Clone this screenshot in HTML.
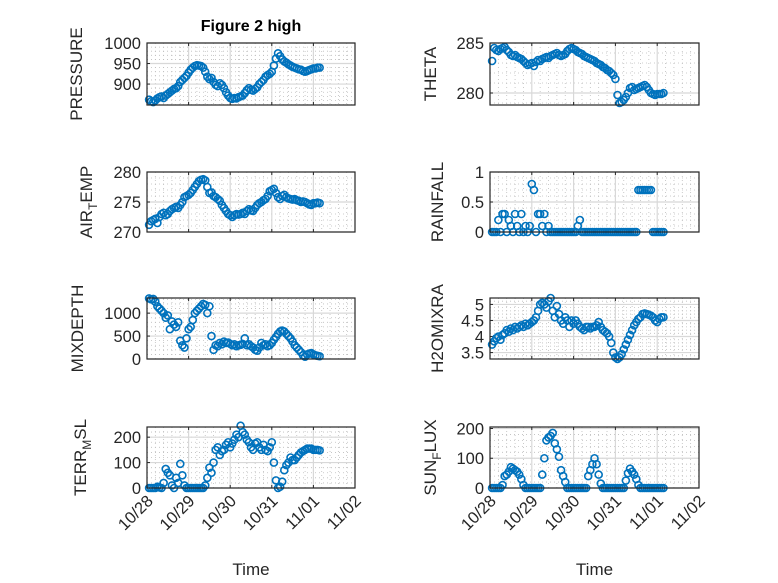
<!DOCTYPE html>
<html><head><meta charset="utf-8">
<style>
html,body{margin:0;padding:0;background:#fff;}
svg{display:block;font-family:"Liberation Sans",sans-serif;}
</style></head>
<body>
<svg id="fig" width="778" height="583" viewBox="0 0 778 583" xmlns="http://www.w3.org/2000/svg">
<rect x="0" y="0" width="778" height="583" fill="#fff"/>
<text x="251" y="31" font-size="16" font-weight="bold" text-anchor="middle" fill="#000">Figure 2 high</text>
</svg>
<script>
const times = [0.05,0.1,0.15,0.2,0.25,0.3,0.35,0.4,0.45,0.5,
0.55,0.6,0.65,0.7,0.75,0.8,0.85,0.9,0.95,1.0,
1.05,1.1,1.15,1.2,1.25,1.3,1.35,1.4,1.45,1.5,
1.55,1.6,1.65,1.7,1.75,1.8,1.85,1.9,1.95,2.0,
2.05,2.1,2.15,2.2,2.25,2.3,2.35,2.4,2.45,2.5,
2.55,2.6,2.65,2.7,2.75,2.8,2.85,2.9,2.95,3.0,
3.05,3.1,3.15,3.2,3.25,3.3,3.35,3.4,3.45,3.5,
3.55,3.6,3.65,3.7,3.75,3.8,3.85,3.9,3.95,4.0,
4.05,4.1,4.15];
const dateTicks = ["10/28","10/29","10/30","10/31","11/01","11/02"];
const pressure = [862,858,856,860,865,868,870,866,872,876,
880,884,888,890,895,905,910,915,920,928,
935,940,944,946,945,944,940,930,918,912,
915,905,898,895,902,898,890,880,872,866,
864,866,865,868,870,872,878,885,890,886,
884,888,892,900,905,910,918,922,925,930,
945,962,975,968,960,955,952,948,945,942,
940,938,936,935,932,930,932,934,936,938,
938,940,940];
const theta = [283.2,284.5,284.3,284.2,284.4,284.5,284.6,284.3,284.1,283.8,
283.7,283.8,283.6,283.5,283.4,283.2,283.0,282.8,282.9,283.0,
282.7,283.1,283.3,283.2,283.4,283.5,283.6,283.5,283.7,283.8,
283.9,284.0,283.8,283.7,283.8,283.9,284.2,284.4,284.5,284.4,
284.3,284.1,284.0,283.9,283.7,283.6,283.5,283.4,283.3,283.2,
283.0,282.9,282.8,282.6,282.5,282.3,282.2,282.0,281.8,281.4,
279.8,279.0,279.1,279.3,279.6,280.0,280.5,280.6,280.3,280.4,
280.5,280.6,280.7,280.8,280.6,280.3,280.0,279.9,279.8,279.9,
279.9,279.9,280.0];
const airTemp = [271.2,271.8,272.0,272.2,271.5,272.5,273.0,273.2,272.8,273.0,
273.5,273.8,274.0,274.2,274.0,274.5,275.0,275.8,276.0,276.2,
276.5,277.0,277.5,278.0,278.5,278.7,278.8,278.6,277.5,276.5,
276.6,276.0,275.8,275.5,275.2,274.5,274.0,273.5,273.0,272.8,
272.5,272.8,273.0,272.9,273.0,273.2,273.0,273.5,273.8,273.6,
273.5,274.0,274.5,274.8,275.0,275.3,275.5,276.0,276.8,277.0,
277.2,276.5,275.8,275.5,276.0,276.2,275.8,275.6,275.5,275.4,
275.5,275.3,275.2,275.0,275.1,275.0,274.8,274.6,274.5,274.8,
274.8,274.9,274.8];
const rainfall = [0,0,0,0.2,0,0.3,0.3,0,0.2,0.1,
0,0.3,0.1,0,0.3,0,0.1,0,0.1,0.8,
0.7,0,0.3,0.3,0.1,0.3,0,0.1,0,0,
0,0,0,0,0,0,0,0,0,0,
0,0.1,0.2,0,0,0,0,0,0,0,
0,0,0,0,0,0,0,0,0,0,
0,0,0,0,0,0,0,0,0,0,
0.7,0.7,0.7,0.7,0.7,0.7,0.7,0,0,0,
0,0,0];
const mixDepth = [1320,1300,1310,1250,1150,1100,1050,1000,900,950,
650,820,750,700,800,400,300,250,450,650,
700,850,1000,1050,1100,1150,1200,1180,1000,1150,
500,200,300,280,350,320,380,350,360,330,
300,320,280,300,310,330,450,300,320,280,
250,200,180,250,350,300,320,280,300,350,
420,480,550,600,620,600,550,500,450,380,
300,250,200,150,80,50,100,120,130,100,
80,70,60];
const h2oMix = [3.75,3.85,3.95,4.0,3.9,4.05,4.1,4.2,4.15,4.25,
4.2,4.3,4.25,4.3,4.35,4.3,4.4,4.35,4.4,4.45,
4.5,4.6,4.8,5.0,5.05,5.0,4.9,5.1,5.2,4.8,
4.6,4.95,4.7,4.5,4.4,4.6,4.5,4.3,4.5,4.4,
4.5,4.4,4.3,4.25,4.2,4.3,4.3,4.25,4.3,4.3,
4.35,4.45,4.3,4.2,4.15,4.1,4.0,3.8,3.5,3.35,
3.3,3.35,3.45,3.6,3.75,3.9,4.05,4.2,4.35,4.45,
4.55,4.6,4.7,4.72,4.7,4.68,4.65,4.6,4.5,4.45,
4.55,4.6,4.6];
const terrMsl = [0,0,0,0,5,2,0,20,75,60,
50,10,0,40,20,95,50,10,0,0,
0,0,0,0,0,0,0,10,40,80,
60,100,150,160,130,145,150,170,180,160,
175,190,210,200,245,220,210,190,180,160,
150,175,180,160,150,170,150,145,160,180,
100,30,0,5,25,70,90,100,120,110,
110,120,130,140,145,150,155,155,155,150,
150,150,148];
const sunFlux = [0,0,0,0,0,10,40,45,55,70,
65,60,55,45,30,10,0,0,0,0,
0,0,0,0,45,100,160,170,175,185,
150,130,105,60,40,20,0,0,0,0,
0,0,0,0,0,0,40,60,80,100,
80,45,15,0,0,0,0,0,0,0,
0,0,0,0,25,50,65,55,45,30,
10,0,0,0,0,0,0,0,0,0,
0,0,0];
const pressureTicks = [900,950,1000];
const thetaTicks = [280,285];
const airTicks = [270,275,280];
const rainTicks = [0,0.5,1];
const mixTicks = [0,500,1000];
const h2oTicks = [3.5,4,4.5,5];
const terrTicks = [0,100,200];
const sunTicks = [0,100,200];

const NS = "http://www.w3.org/2000/svg";
const svg = document.getElementById('fig');
function mk(tag, attrs, parent){
  const e = document.createElementNS(NS, tag);
  for (const k in attrs) e.setAttribute(k, attrs[k]);
  (parent||svg).appendChild(e);
  return e;
}
function panel(p){
  const g = mk('g', {});
  
  
  const x0=p.x, x1=p.x+p.w, y0=p.y, y1=p.y+p.h;
  const xs = t => x0 + t/5*p.w;
  const ys = v => y1 - (v-p.ymin)/(p.ymax-p.ymin)*p.h;
  mk('rect',{x:x0,y:y0,width:p.w,height:p.h,fill:'#fff'},g);
  for(let d=0; d<5; d++) for(let k=1;k<5;k++){
    const xx = xs(d+k*0.2);
    const l = mk('line',{x1:xx,x2:xx,y1:y0,y2:y1,stroke:'#bdbdbd','stroke-width':0.8,'stroke-dasharray':'1 3'},g);
    
    
  }
  const allT = p.ticks;
  const step = allT.length>1 ? allT[1]-allT[0] : 1;
  for(let v=allT[0]-step*3; v<=p.ymax; v+=step/5){
    if (v<=p.ymin || v>=p.ymax) continue;
    const yy = ys(v);
    const l = mk('line',{x1:x0,x2:x1,y1:yy,y2:yy,stroke:'#bdbdbd','stroke-width':0.8,'stroke-dasharray':'1 3'},g);
    
    
  }
  for(let d=1; d<5; d++){
    const xx = xs(d);
    const l = mk('line',{x1:xx,x2:xx,y1:y0,y2:y1,stroke:'#d8d8d8','stroke-width':1.2},g);
    
    
  }
  allT.forEach(v=>{
    const yy=ys(v);
    const l = mk('line',{x1:x0,x2:x1,y1:yy,y2:yy,stroke:'#d8d8d8','stroke-width':1.2},g);
    
    
    const tk = mk('line',{x1:x0,x2:x0+3,y1:yy,y2:yy,stroke:'#262626','stroke-width':1},g);
    
    
    const tl = mk('text',{x:x0-6,y:yy+6,'font-size':16.5,'text-anchor':'end',fill:'#262626'},g);
    tl.textContent = String(v);
    
    
  });
  dateTicks.forEach((lab,d)=>{
    const xx = xs(d);
    mk('line',{x1:xx,x2:xx,y1:y1,y2:y1-3,stroke:'#262626','stroke-width':1},g);
    mk('line',{x1:xx,x2:xx,y1:y0,y2:y0+3,stroke:'#262626','stroke-width':1},g);
    if (p.xlabels){
      const tl = mk('text',{x:0,y:0,'font-size':16.5,'text-anchor':'end',fill:'#262626',transform:`translate(${xx+7},${y1+14}) rotate(-45)`},g);
      tl.textContent = lab;
      
      
    }
  });
  p.data.forEach((v,i)=>{
    const c = mk('circle',{cx:xs(times[i]),cy:ys(v),r:3.5,fill:'none',stroke:'#0072BD','stroke-width':1.6},g);
    
    
  });
  const box = mk('rect',{x:x0,y:y0,width:p.w,height:p.h,fill:'none',stroke:'#262626','stroke-width':1.2},g);
  
  
  const yl = mk('text',{x:0,y:0,'font-size':17,'text-anchor':'middle',fill:'#262626',transform:`translate(${p.lx},${(y0+y1)/2}) rotate(-90)`},g);
  
  
  p.label.forEach(part=>{
    const ts = mk('tspan',{},yl);
    if(part[1]==='sub'){ ts.setAttribute('font-size','12'); ts.setAttribute('dy','5'); }
    else if(part[1]==='after'){ ts.setAttribute('dy','-5'); }
    ts.textContent = part[0];
  });
  if (p.xlabels){
    const xl = mk('text',{x:(x0+x1)/2,y:575,'font-size':17,'text-anchor':'middle',fill:'#262626'},g);
    xl.textContent='Time';
    
    
  }
}
const L = 147, LW = 208, R = 490, RW = 209;
panel({name:'pressure',x:L,w:LW,y:43,h:62,ymin:849,ymax:1000,ticks:pressureTicks,data:pressure,lx:82,label:[['PRESSURE']]});
panel({name:'theta',x:R,w:RW,y:43,h:62,ymin:278.8,ymax:285,ticks:thetaTicks,data:theta,lx:436,label:[['THETA']]});
panel({name:'air-temp',x:L,w:LW,y:172,h:60,ymin:270,ymax:280,ticks:airTicks,data:airTemp,lx:92,label:[['AIR'],['T','sub'],['EMP','after']]});
panel({name:'rainfall',x:R,w:RW,y:172,h:60,ymin:0,ymax:1,ticks:rainTicks,data:rainfall,lx:443,label:[['RAINFALL']]});
panel({name:'mixdepth',x:L,w:LW,y:298,h:61,ymin:0,ymax:1330,ticks:mixTicks,data:mixDepth,lx:83,label:[['MIXDEPTH']]});
panel({name:'h2omixra',x:R,w:RW,y:298,h:61,ymin:3.3,ymax:5.2,ticks:h2oTicks,data:h2oMix,lx:443,label:[['H2OMIXRA']]});
panel({name:'terr-msl',x:L,w:LW,y:427,h:61,ymin:0,ymax:240,ticks:terrTicks,data:terrMsl,lx:86,xlabels:true,label:[['TERR'],['M','sub'],['SL','after']]});
panel({name:'sun-flux',x:R,w:RW,y:427,h:61,ymin:0,ymax:205,ticks:sunTicks,data:sunFlux,lx:436,xlabels:true,label:[['SUN'],['F','sub'],['LUX','after']]});
</script>
</body></html>
